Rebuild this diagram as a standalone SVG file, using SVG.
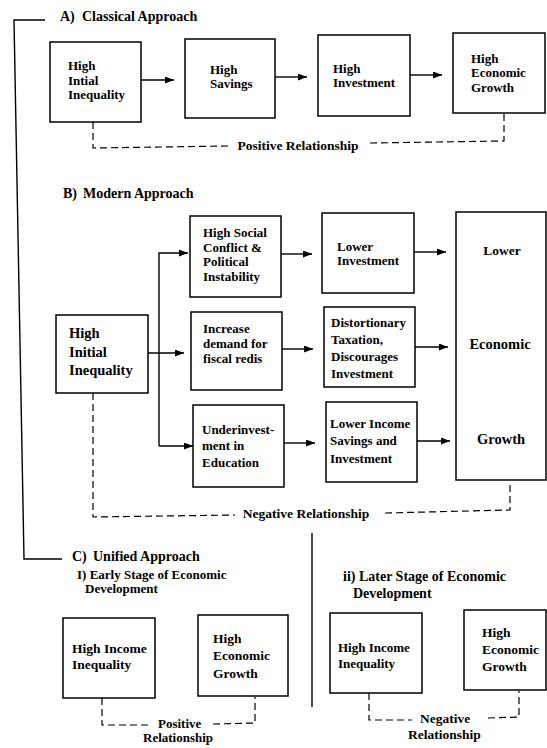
<svg xmlns="http://www.w3.org/2000/svg" width="547" height="748" viewBox="0 0 547 748">
<defs>
<marker id="ah" markerUnits="userSpaceOnUse" markerWidth="10" markerHeight="8" refX="9" refY="3.5" orient="auto">
<path d="M0,0 L9,3.5 L0,7 z" fill="#000"/>
</marker>
<style>
text{font-family:"Liberation Serif","Times New Roman",serif;font-weight:bold;fill:#000}
.t{font-size:14px}
.s{font-size:13px}
.b{font-size:14.5px}
.c{font-size:13.5px}
.box{fill:#fff;stroke:#000;stroke-width:1.5}
.ln{fill:none;stroke:#000;stroke-width:1.4}
.ar{fill:none;stroke:#000;stroke-width:1.4;marker-end:url(#ah)}
.da{fill:none;stroke:#000;stroke-width:1.2;stroke-dasharray:7 4}
.mid{text-anchor:middle}
</style>
</defs>
<rect width="547" height="748" fill="#fff"/>

<g id="connectors">
<polyline class="ln" points="45,20 14,20 24,559 62,559"/>
<line class="ln" x1="312" y1="533" x2="312" y2="707"/>
<!-- A -->
<line class="ar" x1="141" y1="80" x2="174" y2="80"/>
<line class="ar" x1="275" y1="77" x2="307" y2="77"/>
<line class="ar" x1="410" y1="75" x2="442" y2="75"/>
<path class="da" d="M93,122 V148 L228,146"/>
<path class="da" d="M370,143 L504,141 V113"/>
<!-- B -->
<line class="ar" x1="148" y1="353" x2="184" y2="353"/>
<path class="ar" d="M159,446 V253 H188"/>
<path class="ar" d="M159,446 H193"/>
<line class="ar" x1="281" y1="254" x2="312" y2="254"/>
<line class="ar" x1="414" y1="252" x2="446" y2="252"/>
<line class="ar" x1="282" y1="349" x2="313" y2="349"/>
<line class="ar" x1="415" y1="347" x2="448" y2="347"/>
<line class="ar" x1="284" y1="443" x2="315" y2="443"/>
<line class="ar" x1="417" y1="441" x2="450" y2="441"/>
<path class="da" d="M93,393 V517 L235,515"/>
<path class="da" d="M385,513 L510,510 V482"/>
<!-- C -->
<path class="da" d="M102,698 V725 H150"/>
<path class="da" d="M213,724 L255,723 V697"/>
<path class="da" d="M369,693 V720 H412"/>
<path class="da" d="M488,718 L519,717 V691"/>
</g>

<g id="titles">
<text class="t" x="60" y="21">A)<tspan x="82">Classical Approach</tspan></text>
<text class="t" x="63" y="198">B)<tspan x="83">Modern Approach</tspan></text>
<text class="t" x="72" y="561">C)<tspan x="93">Unified Approach</tspan></text>
<text class="s" x="77" y="579">I) Early Stage of Economic</text>
<text class="s" x="85" y="593">Development</text>
<text class="t" x="343" y="581">ii) Later Stage of Economic</text>
<text class="t" x="353" y="598">Development</text>
</g>

<g id="labels">
<text class="c mid" x="298" y="150">Positive Relationship</text>
<text class="c mid" x="306" y="518">Negative Relationship</text>
<text class="s" x="158" y="728">Positive</text>
<text class="s" x="143" y="742">Relationship</text>
<text class="c" x="420" y="723">Negative</text>
<text class="c" x="408" y="739">Relationship</text>
</g>

<g id="a1"><rect class="box" x="50" y="42" width="91" height="80"/>
<text class="s" x="68" y="70">High</text><text class="s" x="68" y="85">Intial</text><text class="s" x="68" y="99">Inequality</text></g>
<g id="a2"><rect class="box" x="185" y="39" width="90" height="79"/>
<text class="s" x="210" y="74">High</text><text class="s" x="210" y="88">Savings</text></g>
<g id="a3"><rect class="box" x="318" y="35" width="92" height="81"/>
<text class="s" x="333" y="73">High</text><text class="s" x="333" y="87">Investment</text></g>
<g id="a4"><rect class="box" x="453" y="33" width="92" height="80"/>
<text class="s" x="471" y="63">High</text><text class="s" x="471" y="77">Economic</text><text class="s" x="471" y="92">Growth</text></g>

<g id="b0"><rect class="box" x="56" y="315" width="92" height="78"/>
<text class="b" x="69" y="338">High</text><text class="b" x="69" y="357">Initial</text><text class="b" x="69" y="375">Inequality</text></g>
<g id="b1"><rect class="box" x="190" y="216" width="91" height="81"/>
<text class="s" x="203" y="237">High Social</text><text class="s" x="203" y="252">Conflict &amp;</text><text class="s" x="203" y="266">Political</text><text class="s" x="203" y="281">Instability</text></g>
<g id="b2"><rect class="box" x="191" y="312" width="91" height="78"/>
<text class="s" x="203" y="333">Increase</text><text class="s" x="203" y="348">demand for</text><text class="s" x="203" y="363">fiscal redis</text></g>
<g id="b3"><rect class="box" x="193" y="405" width="91" height="82"/>
<text class="s" x="202" y="434">Underinvest-</text><text class="s" x="202" y="450">ment in</text><text class="s" x="202" y="467">Education</text></g>
<g id="b4"><rect class="box" x="322" y="213" width="92" height="80"/>
<text class="s" x="337" y="251">Lower</text><text class="s" x="337" y="265">Investment</text></g>
<g id="b5"><rect class="box" x="324" y="307" width="91" height="80"/>
<text class="s" x="331" y="327">Distortionary</text><text class="s" x="331" y="344">Taxation,</text><text class="s" x="331" y="361">Discourages</text><text class="s" x="331" y="378">Investment</text></g>
<g id="b6"><rect class="box" x="326" y="402" width="91" height="80"/>
<text class="s" x="330" y="428">Lower Income</text><text class="s" x="330" y="445">Savings and</text><text class="s" x="330" y="463">Investment</text></g>
<g id="b7"><rect class="box" x="456" y="212" width="90" height="268"/>
<text class="c mid" x="502" y="255">Lower</text><text class="b mid" x="500" y="349">Economic</text><text class="b mid" x="501" y="444">Growth</text></g>

<g id="c1"><rect class="box" x="63" y="618" width="92" height="80"/>
<text class="c" x="72" y="653">High Income</text><text class="c" x="72" y="669">Inequality</text></g>
<g id="c2"><rect class="box" x="198" y="615" width="90" height="81"/>
<text class="c" x="213" y="643">High</text><text class="c" x="213" y="660">Economic</text><text class="c" x="213" y="678">Growth</text></g>
<g id="c3"><rect class="box" x="330" y="613" width="92" height="80"/>
<text class="s" x="338" y="652">High Income</text><text class="s" x="338" y="668">Inequality</text></g>
<g id="c4"><rect class="box" x="464" y="610" width="82" height="80"/>
<text class="c" x="482" y="637">High</text><text class="c" x="482" y="654">Economic</text><text class="c" x="482" y="671">Growth</text></g>
</svg>
